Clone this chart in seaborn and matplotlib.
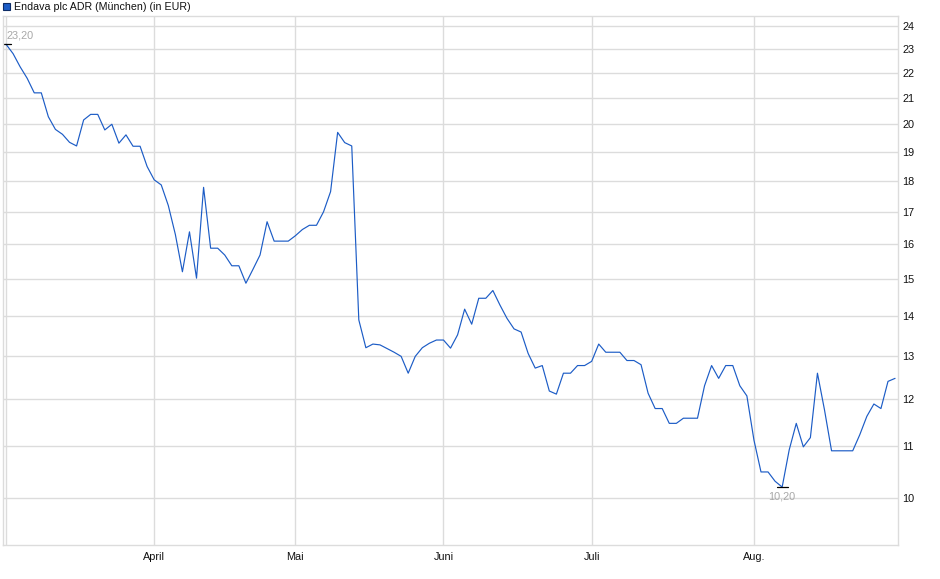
import numpy as np
import pandas as pd
import matplotlib
matplotlib.use("Agg")
import matplotlib.pyplot as plt
import seaborn as sns
from matplotlib.ticker import FixedLocator, FixedFormatter, NullLocator

# ---- data -------------------------------------------------------------
title = "Endava plc ADR (München) (in EUR)"
start_date = "2025-03-03"
end_date = "2025-08-29"
holidays = ["2025-04-18", "2025-04-21", "2025-05-01"]
prices = [
    23.2, 22.8, 22.25, 21.78, 21.2, 21.2, 20.28, 19.81, 19.63, 19.34,
    19.21, 20.16, 20.37, 20.37, 19.79, 20.0, 19.31, 19.61, 19.2, 19.2,
    18.49, 18.04, 17.87, 17.2, 16.3, 15.21, 16.38, 15.03, 17.79, 15.89,
    15.89, 15.69, 15.38, 15.38, 14.89, 15.28, 15.69, 16.69, 16.1, 16.1,
    16.1, 16.26, 16.45, 16.58, 16.58, 17.0, 17.65, 19.7, 19.33, 19.21,
    13.91, 13.21, 13.3, 13.28, 13.19, 13.1, 13.0, 12.6, 13.0, 13.21,
    13.32, 13.4, 13.4, 13.2, 13.53, 14.19, 13.8, 14.48, 14.48, 14.69,
    14.3, 13.95, 13.68, 13.6, 13.07, 12.72, 12.78, 12.19, 12.12, 12.6,
    12.6, 12.78, 12.78, 12.88, 13.3, 13.1, 13.1, 13.1, 12.9, 12.9,
    12.8, 12.14, 11.8, 11.8, 11.48, 11.48, 11.59, 11.59, 11.59, 12.31,
    12.78, 12.48, 12.78, 12.78, 12.31, 12.08, 11.13, 10.49, 10.49, 10.31,
    10.2, 10.93, 11.48, 10.99, 11.18, 12.6, 11.77, 10.91, 10.91, 10.91,
    10.91, 11.24, 11.63, 11.9, 11.8, 12.41, 12.48,
]
month_names = {4: "April", 5: "Mai", 6: "Juni", 7: "Juli", 8: "Aug."}
y_ticks = [10, 11, 12, 13, 14, 15, 16, 17, 18, 19, 20, 21, 22, 23, 24]

# ---- build frame --------------------------------------------------------
dates = pd.bdate_range(start_date, end_date)
dates = dates[~dates.isin(pd.to_datetime(holidays))]
n = min(len(dates), len(prices))
df = pd.DataFrame({"date": dates[:n], "price": prices[:n]})
df["idx"] = np.arange(n)

first_of_month = df.groupby(df["date"].dt.month)["idx"].min()
tick_pos = [0] + [int(first_of_month[m]) for m in month_names if m in first_of_month]
tick_lab = [""] + [month_names[m] for m in month_names if m in first_of_month]

# ---- plot ----------------------------------------------------------------
sns.set_theme(style="white")
plt.rcParams["font.family"] = ["Liberation Sans", "DejaVu Sans"]

fig = plt.figure(figsize=(9.4, 5.79), dpi=100)
ax = fig.add_axes([2.7 / 940, 1 - 545 / 579, (898.3 - 2.7) / 940, (545 - 16) / 579])

grid_c = "#dcdcdc"
line_c = "#1c5cc6"
sns.lineplot(data=df, x="idx", y="price", ax=ax, color=line_c, lw=0.85)

ax.set_yscale("log")
ax.set_ylim(9.16, 24.45)
ax.set_xlim(-0.47, n - 1 + 0.46)

ax.yaxis.set_major_locator(FixedLocator(y_ticks))
ax.yaxis.set_major_formatter(FixedFormatter([str(t) for t in y_ticks]))
ax.yaxis.set_minor_locator(NullLocator())
ax.yaxis.tick_right()
ax.tick_params(axis="y", which="major", length=0, pad=3, labelsize=7.8,
               labelcolor="#111111", left=False, right=False)

ax.set_xticks(tick_pos)
ax.set_xticklabels(tick_lab)
ax.tick_params(axis="x", length=3, color=grid_c, width=1, pad=2,
               labelsize=7.8, labelcolor="#111111")

ax.grid(True, color=grid_c, lw=1.0)
for s in ax.spines.values():
    s.set_color(grid_c)
    s.set_linewidth(1.0)
ax.set_xlabel("")
ax.set_ylabel("")

# max / min markers
i_max = int(np.argmax(prices[:n]))
i_min = int(np.argmin(prices[:n]))
vmax, vmin = prices[i_max], prices[i_min]
ax.plot([i_max - 0.45, i_max + 0.75], [vmax, vmax], color="black", lw=0.9)
ax.plot([i_min - 0.8, i_min + 0.8], [vmin, vmin], color="black", lw=0.9)
ax.annotate(f"{vmax:.2f}".replace(".", ","), (i_max, vmax), xytext=(0.5, 2.5),
            textcoords="offset points", ha="left", va="bottom",
            fontsize=7.8, color="#a8a8a8")
ax.annotate(f"{vmin:.2f}".replace(".", ","), (i_min, vmin), xytext=(0, -3),
            textcoords="offset points", ha="center", va="top",
            fontsize=7.8, color="#a8a8a8")

# legend-like title
fig.patches.append(plt.Rectangle((2.5 / 940, 1 - 10 / 579), 7 / 940, 7 / 579,
                                 transform=fig.transFigure, facecolor=line_c,
                                 edgecolor="#0d2c66", lw=0.8))
fig.text(14 / 940, 1 - 6.5 / 579, title, ha="left", va="center",
         fontsize=7.7, color="#111111")

fig.savefig("out.png", dpi=100)
